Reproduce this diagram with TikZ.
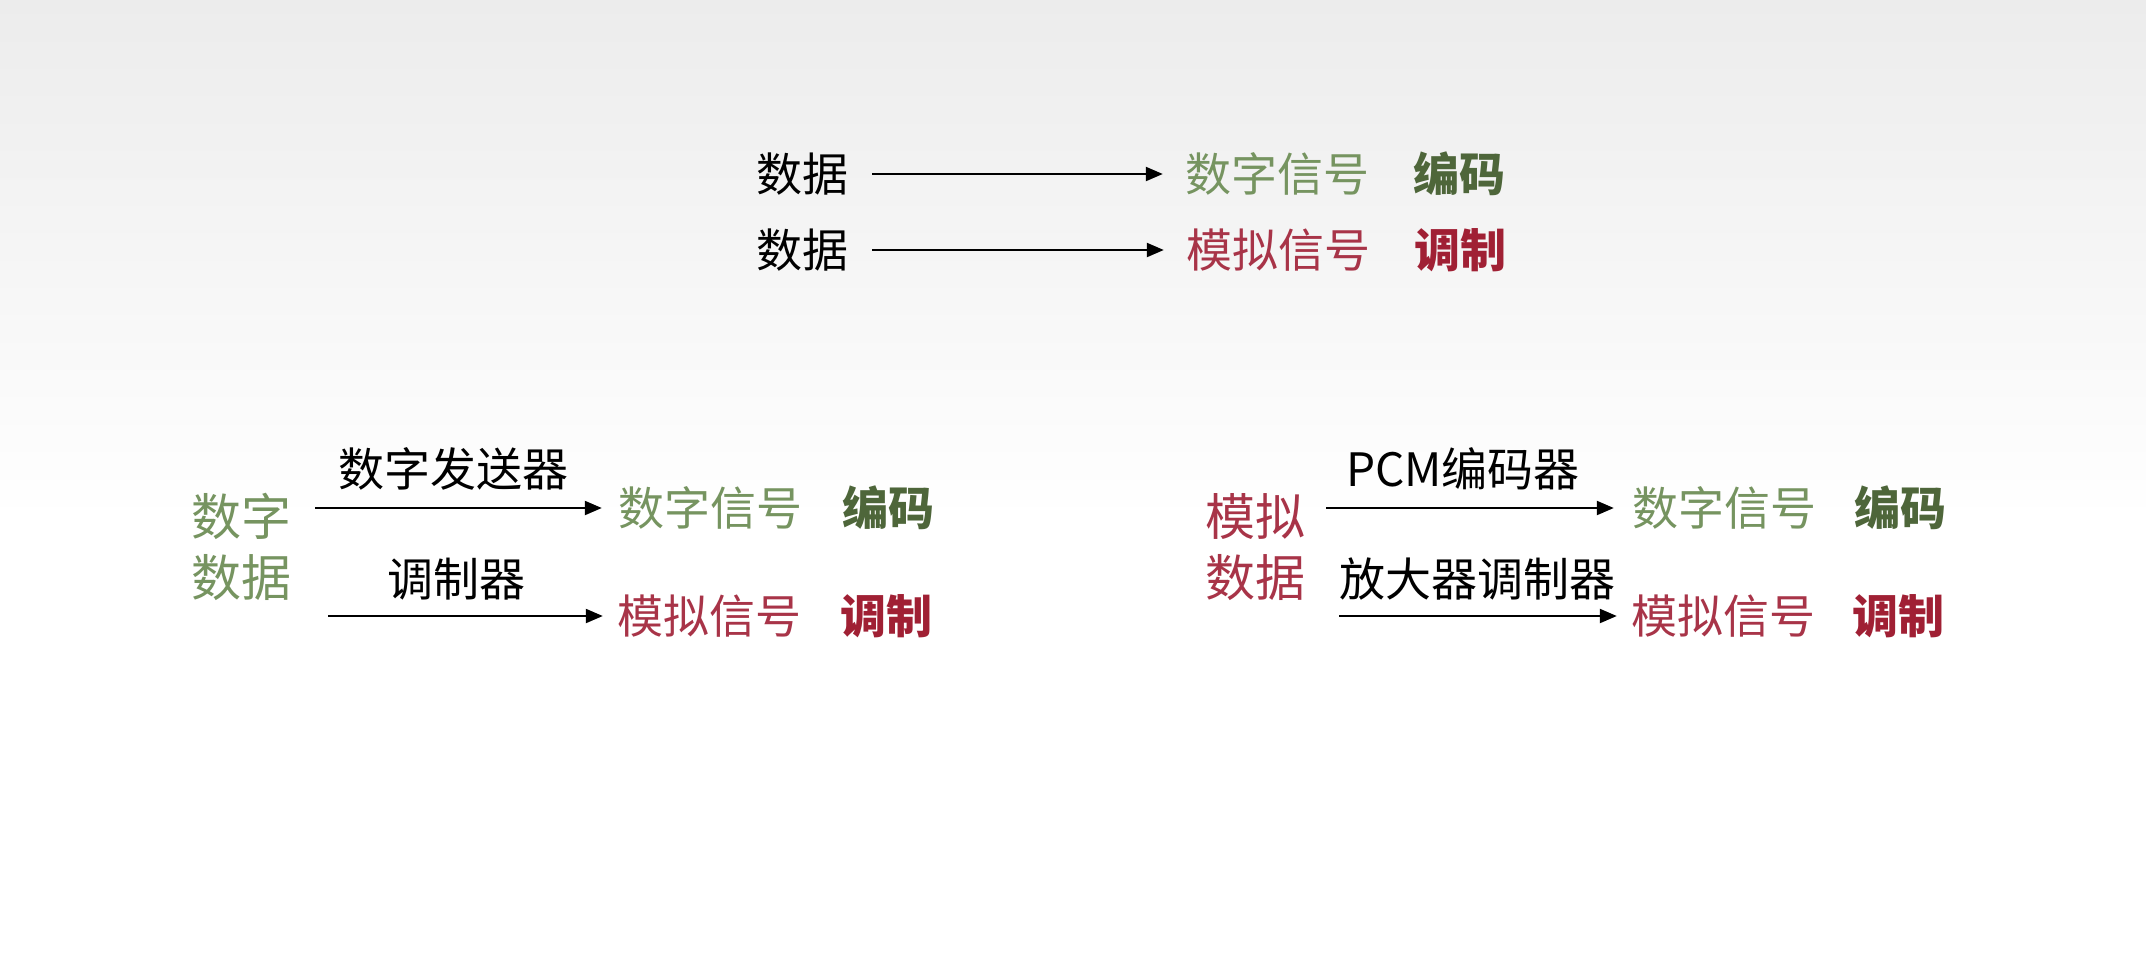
\documentclass[tikz,border=0pt]{standalone}
\usepackage{fontspec}
\newfontfamily\cjk{Noto Sans CJK SC}
\usetikzlibrary{arrows.meta}
\definecolor{siggreen}{RGB}{118,148,96}
\definecolor{codegreen}{RGB}{78,102,58}
\definecolor{sigred}{RGB}{168,52,72}
\definecolor{codered}{RGB}{160,32,52}
\definecolor{bgtop}{RGB}{236,236,236}
\begin{document}
\begin{tikzpicture}[x=1pt,y=-1pt,
  txt/.style={inner sep=0pt,font=\cjk\fontsize{46}{54}\selectfont},
  big/.style={txt,align=center,font=\cjk\fontsize{50}{61}\selectfont},
  dsig/.style={txt,text=siggreen},
  asig/.style={txt,text=sigred},
  dcode/.style={txt,text=codegreen,font=\cjk\bfseries\fontsize{46}{54}\selectfont},
  acode/.style={txt,text=codered,font=\cjk\bfseries\fontsize{46}{54}\selectfont},
  arr/.style={line width=2.2pt,-{Triangle[length=17pt,width=14pt]}}]
\useasboundingbox (0,0) rectangle (2146,954);
\fill[white] (0,0) rectangle (2146,954);
\shade[top color=bgtop,bottom color=white] (0,0) rectangle (2146,520);

% top rows
\node[txt] (d1) at (802,174) {数据};
\node[dsig] (s1) at (1277,174) {数字信号};
\node[dcode] (c1) at (1459,174) {编码};
\node[txt] (d2) at (802,250) {数据};
\node[asig] (s2) at (1278,250) {模拟信号};
\node[acode] (c2) at (1460,250) {调制};
\draw[arr,shorten <=24pt,shorten >=22pt] (d1) -- (s1);
\draw[arr,shorten <=24pt,shorten >=22pt] (d2) -- (s2);

% bottom left
\node[big,text=siggreen] (dd) at (241,547) {数字\\数据};
\node[dsig] (ls1) at (710,508) {数字信号};
\node[dcode] (lc1) at (888,508) {编码};
\node[asig] (ls2) at (709,616) {模拟信号};
\node[acode] (lc2) at (886,616) {调制};
\node[txt] (lt1) at (453,469) {数字发送器};
\node[txt] (lt2) at (456,579) {调制器};
\draw[arr] ([xshift=24pt]dd.east |- ls1.west) -- ([xshift=-16pt]ls1.west);
\draw[arr] ([xshift=37pt]dd.east |- ls2.west) -- ([xshift=-14pt]ls2.west);

% bottom right
\node[big,text=sigred] (ad) at (1255,547) {模拟\\数据};
\node[dsig] (rs1) at (1724,508) {数字信号};
\node[dcode] (rc1) at (1900,508) {编码};
\node[asig] (rs2) at (1723,616) {模拟信号};
\node[acode] (rc2) at (1898,616) {调制};
\node[txt] (rt1) at (1463,469) {PCM编码器};
\node[txt] (rt2) at (1477,579) {放大器调制器};
\draw[arr] ([xshift=21pt]ad.east |- rs1.west) -- ([xshift=-18pt]rs1.west);
\draw[arr] ([xshift=34pt]ad.east |- rs2.west) -- ([xshift=-14pt]rs2.west);
\end{tikzpicture}
\end{document}
